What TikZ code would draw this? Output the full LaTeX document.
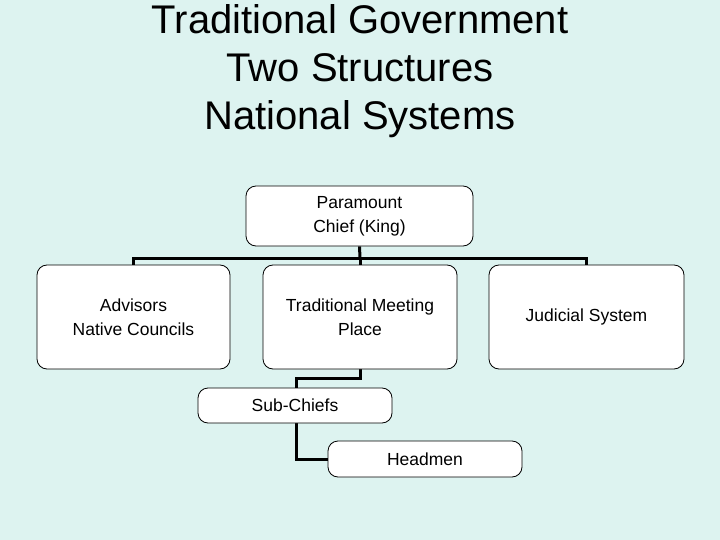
\documentclass[tikz,border=0pt]{standalone}
\usepackage{fontspec}
\setmainfont{Liberation Sans}
\definecolor{bgc}{RGB}{221,243,240}
\pgfdeclarelayer{bgfill}
\pgfdeclarelayer{lines}
\pgfsetlayers{bgfill,lines,main}
\begin{document}
\begin{tikzpicture}[x=1pt,y=-1pt,
  box/.style={draw=black,line width=0.8pt,fill=white,rounded corners=10pt,align=center,inner sep=0pt,
    font=\fontsize{17.5}{24}\selectfont},
  conn/.style={draw=black,line width=3pt}]
\begin{pgfonlayer}{bgfill}
\fill[bgc] (0,0) rectangle (720,540);
\end{pgfonlayer}
\useasboundingbox (0,0) rectangle (720,540);
\node[align=center,font=\fontsize{40}{48}\selectfont] (title) at (360,71) {Traditional Government\\Two Structures\\National Systems};
% boxes
\node[box,minimum width=227pt,minimum height=60pt] (king) at (359.5,216) {\raisebox{-2pt}{\parbox{200pt}{\centering Paramount\\Chief (King)}}};
\node[box,minimum width=193pt,minimum height=104pt] (adv) at (133.5,317) {\raisebox{-2pt}{\parbox{180pt}{\centering Advisors\\Native Councils}}};
\node[box,minimum width=194pt,minimum height=104pt] (meet) at (360,317) {\raisebox{-2pt}{\parbox{180pt}{\centering Traditional Meeting\\Place}}};
\node[box,minimum width=195pt,minimum height=104pt] (jud) at (586.5,317) {Judicial System};
\node[box,minimum width=194pt,minimum height=35pt] (sub) at (295,405.5) {Sub-Chiefs};
\node[box,minimum width=194pt,minimum height=36pt] (head) at (425,459) {Headmen};
% connectors
\coordinate (bus) at (360,258);
\coordinate (subx) at (296,378);
\begin{pgfonlayer}{lines}
\draw[conn] (king.south) -- (bus);
\draw[conn] (adv.north) -- (adv.north |- bus) -- (jud.north |- bus) -- (jud.north);
\draw[conn] (bus) -- (meet.north);
\draw[conn] (meet.south) -- (meet.south |- subx) -- (subx) -- (subx |- sub.north);
\draw[conn] (subx |- sub.south) -- (subx |- head.west) -- (head.west);
\end{pgfonlayer}
\end{tikzpicture}
\end{document}
